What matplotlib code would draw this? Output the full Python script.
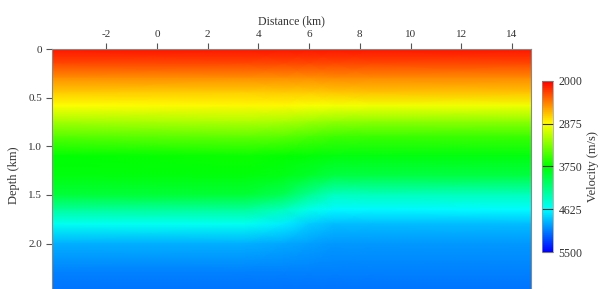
import numpy as np
import matplotlib
matplotlib.use("Agg")
import matplotlib.pyplot as plt
from matplotlib.colors import LinearSegmentedColormap, Normalize

plt.rcParams['font.family'] = ['Liberation Serif', 'DejaVu Serif']

# velocity model (m/s), rows = depth, columns = distance
distance_km = [-4.2, 3.5, 5.0, 6.0, 7.0, 8.5, 15.0]
depth_km = [0.0, 0.15, 0.3, 0.45, 0.58, 0.75, 0.9, 1.1, 1.3, 1.5, 1.65, 1.8, 2.0, 2.3, 2.7]
velocity = [
    [2080, 2080, 2080, 2080, 2080, 2080, 2080],
    [2250, 2250, 2250, 2250, 2250, 2250, 2250],
    [2500, 2500, 2500, 2495, 2490, 2490, 2490],
    [2700, 2720, 2710, 2700, 2685, 2680, 2680],
    [2875, 2850, 2860, 2890, 2915, 2920, 2920],
    [3200, 3160, 3180, 3230, 3270, 3280, 3280],
    [3450, 3420, 3440, 3500, 3540, 3550, 3550],
    [3750, 3720, 3740, 3770, 3795, 3800, 3800],
    [3800, 3790, 3820, 3900, 3975, 3980, 3980],
    [3950, 3940, 4050, 4250, 4410, 4400, 4400],
    [4280, 4270, 4400, 4550, 4640, 4640, 4630],
    [4580, 4580, 4680, 4800, 4850, 4850, 4850],
    [4890, 4890, 4920, 4950, 4980, 4980, 4980],
    [5050, 5050, 5050, 5050, 5050, 5050, 5050],
    [5150, 5150, 5150, 5150, 5150, 5150, 5150],
]

cbar_ticks = [2000, 2875, 3750, 4625, 5500]
x_ticks = [-2, 0, 2, 4, 6, 8, 10, 12, 14]
y_ticks = [0, 0.5, 1.0, 1.5, 2.0, 2.5]
y_ticklabels = ['0', '0.5', '1.0', '1.5', '2.0', '2.5']

cmap = LinearSegmentedColormap.from_list(
    'vel', [(1, 0, 0), (1, 1, 0), (0, 1, 0), (0, 1, 1), (0, 0, 1)])
norm = Normalize(vmin=2000, vmax=5500)

fig = plt.figure(figsize=(6.06, 2.89), dpi=100)
ax = fig.add_axes([0.0858, -0.045, 0.790, 0.8754])

X, Y = np.meshgrid(distance_km, depth_km)
im = ax.pcolormesh(X, Y, np.array(velocity, dtype=float), shading='gouraud',
                   cmap=cmap, norm=norm, rasterized=True)

ax.set_xlim(-4.14, 14.74)
ax.set_ylim(2.6, 0)

ax.xaxis.tick_top()
ax.xaxis.set_label_position('top')
ax.set_xticks(x_ticks)
ax.set_xticklabels([str(t) for t in x_ticks])
ax.set_yticks(y_ticks)
ax.set_yticklabels(y_ticklabels)
ax.tick_params(axis='both', direction='out', length=4, width=0.8,
               color='#555555', labelsize=8, labelcolor='#333333', pad=3)
ax.set_xlabel('Distance (km)', fontsize=8.5, color='#333333', labelpad=4)
ax.set_ylabel('Depth (km)', fontsize=9, color='#333333', labelpad=6)
for sp in ax.spines.values():
    sp.set_color('#888888')
    sp.set_linewidth(0.8)

cax = fig.add_axes([0.8944, 0.128, 0.0182, 0.592])
cbar = fig.colorbar(im, cax=cax, ticks=cbar_ticks)
cbar.ax.invert_yaxis()
cbar.outline.set_edgecolor('#999999')
cbar.outline.set_linewidth(0.5)
cbar.ax.tick_params(direction='in', length=7.9, width=0.8, color='#333333',
                    labelsize=8.5, labelcolor='#333333', pad=4)
cbar.set_label('Velocity (m/s)', fontsize=9, color='#333333', labelpad=3)

fig.savefig('out.png', dpi=100)
